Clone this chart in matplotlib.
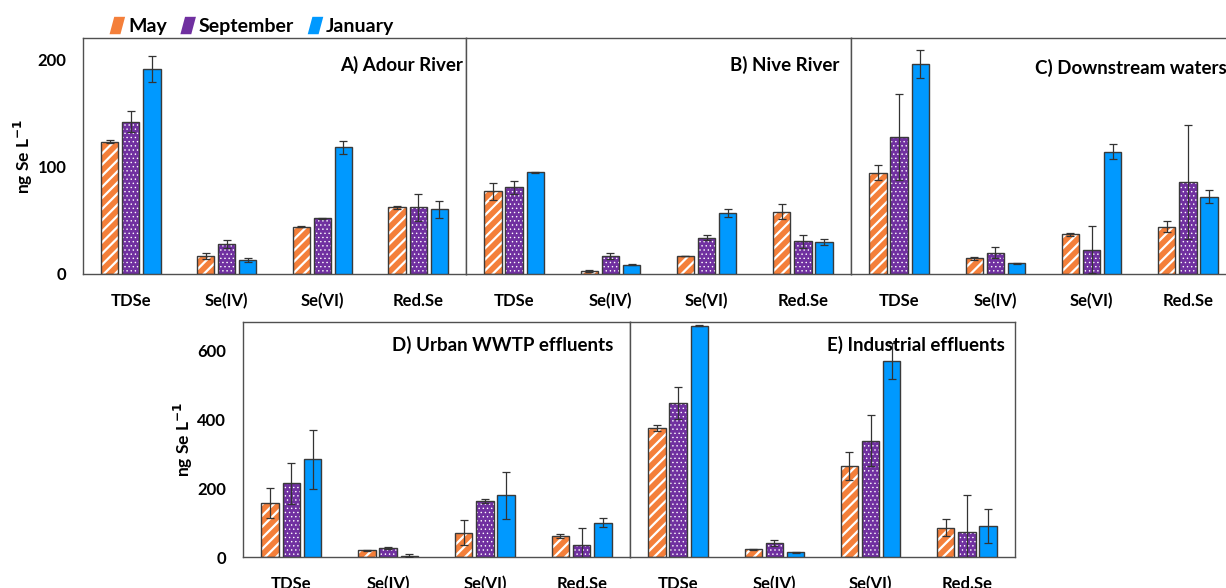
import matplotlib.pyplot as plt
import numpy as np
from matplotlib.patches import Polygon, Patch
from matplotlib.legend_handler import HandlerPatch

plt.rcParams['font.family'] = ['Lato', 'DejaVu Sans']
plt.rcParams['font.weight'] = 'bold'

species = ['TDSe', 'Se(IV)', 'Se(VI)', 'Red.Se']
months = ['May', 'September', 'January']

# A) Adour River
a_may = [123.5, 17, 44, 62]
a_may_err = [1, 3, 0.5, 1]
a_sep = [142, 28, 52, 62]
a_sep_err = [10, 4, 0.5, 13]
a_jan = [191, 13, 118, 60.5]
a_jan_err = [12, 2, 6, 8]

# B) Nive River
b_may = [77, 2.5, 17, 58]
b_may_err = [8, 1, 0, 7]
b_sep = [81, 17, 34, 30.5]
b_sep_err = [6, 3, 2, 6]
b_jan = [95, 8.5, 57, 30]
b_jan_err = [0.5, 0.5, 4, 3]

# C) Downstream waters
c_may = [94.5, 14.5, 37, 44]
c_may_err = [7, 1, 1.5, 5]
c_sep = [127.5, 20, 22.5, 85.5]
c_sep_err = [40, 5.5, 22, 53]
c_jan = [195.5, 10, 114, 72]
c_jan_err = [13, 0.5, 7, 6]

# D) Urban WWTP effluents
d_may = [157, 19.5, 71, 62]
d_may_err = [43, 2, 35, 6]
d_sep = [214, 26, 162, 35]
d_sep_err = [60, 3, 6, 50]
d_jan = [284, 4, 179, 99]
d_jan_err = [86, 5, 69, 13]

# E) Industrial effluents
e_may = [374, 22, 264, 85.5]
e_may_err = [8, 2, 40, 26]
e_sep = [447, 41, 337, 74]
e_sep_err = [47, 9, 74, 105]
e_jan = [671, 13.5, 568, 90]
e_jan_err = [1, 0.5, 52, 49]

orange = '#F47F3A'
purple = '#7030A0'
blue = '#0099FF'
edge = '#3a3a3a'
spine_c = '#505050'

fig = plt.figure(figsize=(12.26, 5.88), dpi=100)
fig.set_facecolor('white')

x = np.arange(len(species))
w = 0.18
off = 0.22


def hatched_bars(ax, xs, ys, color, hatch, hlw):
    with plt.rc_context({'hatch.linewidth': hlw}):
        bars = ax.bar(xs, ys, w, color=color, edgecolor='white', hatch=hatch, linewidth=0, zorder=2)
    for b in bars:
        if hasattr(b, 'set_hatch_linewidth'):
            b.set_hatch_linewidth(hlw)
    ax.bar(xs, ys, w, fill=False, edgecolor=edge, linewidth=1, zorder=3)


def draw_panel(rect, may, may_e, sep, sep_e, jan, jan_e, title, tx, ty, ymax, yticks, show_y):
    ax = fig.add_axes(rect)
    hatched_bars(ax, x - off, may, orange, '///', 1.6)
    hatched_bars(ax, x, sep, purple, '....', 0.5)
    ax.bar(x + off, jan, w, color=blue, edgecolor=edge, linewidth=1, zorder=3)
    for xs, ys, es in [(x - off, may, may_e), (x, sep, sep_e), (x + off, jan, jan_e)]:
        ax.errorbar(xs, ys, yerr=es, fmt='none', ecolor='#333333', elinewidth=0.9,
                    capsize=3, capthick=0.9, zorder=4)
    ax.set_xlim(-0.5, 3.5)
    ax.set_ylim(0, ymax)
    ax.set_xticks(x)
    ax.set_xticklabels(species, fontsize=12, fontweight='bold')
    ax.tick_params(axis='both', length=0)
    ax.tick_params(axis='x', pad=14)
    if show_y:
        ax.set_yticks(yticks)
        ax.set_yticklabels([str(v) for v in yticks], fontsize=12, fontweight='bold')
        ax.tick_params(axis='y', pad=12)
        ax.set_ylabel('ng Se L$^{\\mathbf{-1}}$', fontsize=12.5, fontweight='bold', labelpad=2)
    else:
        ax.set_yticks([])
    for s in ax.spines.values():
        s.set_color(spine_c)
        s.set_linewidth(1)
    ax.text(tx, ty, title, transform=ax.transAxes, ha='right', va='center',
            fontsize=13.5, fontweight='bold', zorder=5)
    return ax


top_b = 1 - 274 / 588
top_h = (274 - 38) / 588
bot_b = 1 - 557 / 588
bot_h = (557 - 322) / 588

draw_panel([83 / 1226, top_b, 383 / 1226, top_h], a_may, a_may_err, a_sep, a_sep_err,
           a_jan, a_jan_err, 'A) Adour River', 0.992, 0.886, 220, [0, 100, 200], True)
draw_panel([466 / 1226, top_b, 385 / 1226, top_h], b_may, b_may_err, b_sep, b_sep_err,
           b_jan, b_jan_err, 'B) Nive River', 0.971, 0.886, 220, [0, 100, 200], False)
draw_panel([851 / 1226, top_b, 385 / 1226, top_h], c_may, c_may_err, c_sep, c_sep_err,
           c_jan, c_jan_err, 'C) Downstream waters', 0.977, 0.873, 220, [0, 100, 200], False)
draw_panel([243 / 1226, bot_b, 387 / 1226, bot_h], d_may, d_may_err, d_sep, d_sep_err,
           d_jan, d_jan_err, 'D) Urban WWTP effluents', 0.956, 0.902, 682, [0, 200, 400, 600], True)
draw_panel([630 / 1226, bot_b, 385 / 1226, bot_h], e_may, e_may_err, e_sep, e_sep_err,
           e_jan, e_jan_err, 'E) Industrial effluents', 0.974, 0.902, 682, [0, 200, 400, 600], False)


class SlantHandler(HandlerPatch):
    def create_artists(self, legend, orig_handle, xdescent, ydescent, width, height,
                       fontsize, trans):
        x0, y0 = -xdescent, -ydescent
        s = width * 0.3
        p = Polygon([[x0, y0], [x0 + width - s, y0], [x0 + width, y0 + height],
                     [x0 + s, y0 + height]], closed=True,
                    facecolor=orig_handle.get_facecolor(), edgecolor='none', transform=trans)
        return [p]


handles = [Patch(facecolor=c) for c in (orange, purple, blue)]
fig.legend(handles, months, loc='center', bbox_to_anchor=(252 / 1226, 1 - 26 / 588),
           ncol=3, frameon=False, handlelength=0.8, handleheight=1.0,
           handletextpad=0.15, columnspacing=0.7,
           handler_map={Patch: SlantHandler()},
           prop={'weight': 'bold', 'size': 14})

fig.savefig('out.png', dpi=100, facecolor='white')
